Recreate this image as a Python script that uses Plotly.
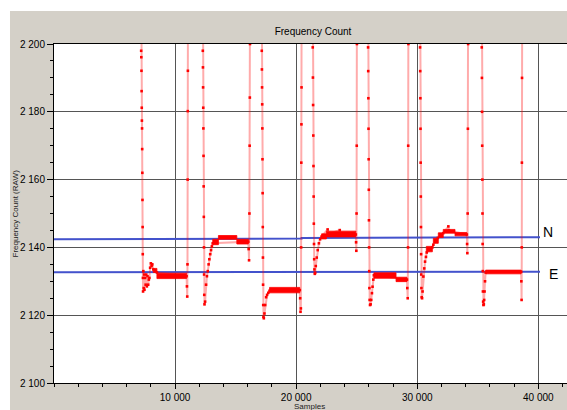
import plotly.graph_objects as go

# Frequency count signal, one list of (sample, count) pairs per measurement cycle.
# Values above 2200 leave the plotted window during the switching transients.
cycle_1 = [
    (7100, 2280), (7200, 2198.0), (7212, 2196.1), (7224, 2192.1), (7236, 2186.1),
    (7248, 2181.2), (7260, 2177.4), (7272, 2175.1), (7284, 2169.0), (7296, 2162.0),
    (7308, 2154.0), (7320, 2146.0), (7332, 2138.0), (7344, 2131.0), (7356, 2127.0),
    (7380, 2133.0), (7410, 2128.0), (7440, 2132.0), (7470, 2127.5), (7520, 2131.0),
    (7570, 2129.0), (7620, 2132.0), (7670, 2128.5), (7720, 2131.5), (7780, 2129.0),
    (7830, 2130.5), (7880, 2131.0), (7940, 2134.0), (8000, 2135.3), (8060, 2134.5),
    (8120, 2135.0), (8200, 2133.5), (8500, 2132.6),
    (10950, 2131.5), (10980, 2128.5), (11005, 2125.5), (11025, 2135.0), (11040, 2160.0),
    (11050, 2180.2), (11058, 2192.1), (11070, 2230.0), (11100, 2280),
]
cycle_2 = [
    (12200, 2280), (12290, 2198.0), (12302, 2193.1), (12314, 2187.2), (12326, 2181.2),
    (12338, 2175.1), (12350, 2167.0), (12362, 2158.0), (12374, 2149.0), (12386, 2140.0),
    (12398, 2132.0), (12410, 2126.0), (12430, 2123.2), (12480, 2124.0), (12560, 2129.0),
    (12630, 2131.5), (12700, 2133.0), (12770, 2135.0), (12830, 2136.5), (12900, 2138.0),
    (12970, 2139.2), (13040, 2140.3), (13110, 2141.2),
    (16050, 2141.7), (16080, 2139.5), (16110, 2136.2), (16140, 2150.0), (16160, 2170.0),
    (16175, 2184.2), (16190, 2200.0), (16210, 2240.0), (16240, 2280),
]
cycle_3 = [
    (17060, 2280), (17160, 2198.0), (17172, 2192.5), (17184, 2187.2), (17196, 2182.2),
    (17208, 2175.1), (17220, 2166.0), (17232, 2156.0), (17244, 2146.0), (17256, 2137.0),
    (17268, 2129.0), (17280, 2123.0), (17300, 2119.5), (17330, 2119.1), (17380, 2120.5),
    (17440, 2123.0), (17520, 2125.3), (17600, 2126.0), (17700, 2126.6), (17800, 2127.2),
    (20300, 2127.4), (20330, 2125.0), (20360, 2121.0), (20390, 2122.0), (20410, 2140.0),
    (20425, 2165.0), (20435, 2176.3), (20445, 2187.2), (20460, 2210.0), (20490, 2280),
]
cycle_4 = [
    (21280, 2280), (21370, 2199.0), (21385, 2190.1), (21400, 2182.0), (21415, 2173.0),
    (21430, 2164.0), (21445, 2155.0), (21460, 2147.0), (21475, 2141.0), (21490, 2136.5),
    (21510, 2133.5), (21540, 2132.2), (21570, 2132.5), (21620, 2134.5), (21700, 2137.0),
    (21780, 2139.2), (21880, 2141.2), (21980, 2142.4), (22100, 2143.2),
    (22600, 2145.3), (22700, 2144.0), (23600, 2145.1), (23700, 2144.0),
    (24930, 2143.8), (24950, 2141.5), (24970, 2139.0), (24990, 2150.0), (25005, 2170.0),
    (25020, 2200.0), (25050, 2280),
]
cycle_5 = [
    (25850, 2280), (25940, 2199.0), (25952, 2192.0), (25964, 2184.0), (25976, 2175.0),
    (25988, 2166.0), (26000, 2157.0), (26012, 2148.0), (26024, 2140.0), (26036, 2133.0),
    (26050, 2128.0), (26070, 2124.5), (26100, 2123.0), (26150, 2123.2), (26200, 2124.5),
    (26260, 2126.5), (26310, 2128.4), (26370, 2130.5), (26420, 2131.8),
    (29150, 2130.5), (29180, 2128.0), (29215, 2125.0), (29240, 2140.0), (29255, 2170.0),
    (29270, 2200.0), (29300, 2280),
]
cycle_6 = [
    (30140, 2280), (30235, 2199.0), (30247, 2192.0), (30259, 2184.0), (30271, 2175.0),
    (30283, 2165.0), (30295, 2155.0), (30307, 2146.0), (30319, 2138.0), (30331, 2132.0),
    (30345, 2128.0), (30370, 2125.3), (30400, 2125.0), (30440, 2127.0), (30505, 2131.4),
    (30580, 2133.8), (30645, 2135.8), (30720, 2137.2), (30785, 2138.5),
    (31250, 2140.0), (31330, 2140.8), (31700, 2142.8), (32150, 2144.2), (32570, 2146.2),
    (32620, 2145.0),
    (34100, 2143.8), (34120, 2141.0), (34140, 2138.3), (34165, 2150.0), (34185, 2175.0),
    (34205, 2200.0), (34240, 2280),
]
cycle_7 = [
    (35240, 2280), (35330, 2199.0), (35342, 2190.0), (35354, 2180.0), (35366, 2170.0),
    (35378, 2160.0), (35390, 2150.0), (35402, 2141.0), (35414, 2133.0), (35426, 2127.0),
    (35445, 2124.0), (35470, 2123.0), (35500, 2123.2), (35530, 2124.5), (35560, 2127.0),
    (35600, 2130.0), (35650, 2132.6),
    (38580, 2132.8), (38600, 2130.0), (38620, 2124.5), (38635, 2140.0), (38645, 2165.0),
    (38655, 2190.0), (38670, 2230.0), (38700, 2280),
]

# Settled plateaus: (start sample, end sample, lowest count, highest count)
plateau_bands = [
    (8200, 8500, 2132.6, 2133.8),
    (8500, 10950, 2130.8, 2132.4),
    (13110, 13580, 2140.8, 2142.4),
    (13580, 15100, 2142.4, 2143.5),
    (15100, 16050, 2141.0, 2142.4),
    (17800, 20300, 2126.6, 2128.2),
    (22100, 22500, 2142.5, 2144.0),
    (22500, 24930, 2143.1, 2144.8),
    (26420, 28250, 2130.9, 2132.5),
    (28250, 29150, 2129.9, 2131.2),
    (30750, 31250, 2138.7, 2140.3),
    (31330, 31740, 2141.2, 2142.7),
    (31740, 32150, 2142.9, 2144.3),
    (32150, 33120, 2144.2, 2145.3),
    (33120, 34100, 2143.4, 2144.4),
    (35650, 38580, 2132.2, 2133.3),
]

# Reference levels
ref_n_samples = [0, 7150, 7150, 20450, 20450, 30250, 30250, 40140]
ref_n_counts = [2142.4, 2142.4, 2142.6, 2142.6, 2142.8, 2142.8, 2143.0, 2143.0]
ref_e_samples = [0, 25900, 25900, 40140]
ref_e_counts = [2132.65, 2132.65, 2132.85, 2132.85]
ref_labels = [("N", 40800, 2144.5), ("E", 41215, 2132.3)]

x_ticks = [10000, 20000, 30000, 40000]
y_ticks = [2100, 2120, 2140, 2160, 2180, 2200]

cycles = [cycle_1, cycle_2, cycle_3, cycle_4, cycle_5, cycle_6, cycle_7]
sig_x = [s for c in cycles for s, _ in c]
sig_y = [v for c in cycles for _, v in c]

band_x, band_y = [], []
for s0, s1, lo, hi in plateau_bands:
    band_x += [s0, s1, s1, s0, s0, None]
    band_y += [lo, lo, hi, hi, lo, None]

FONT = "Liberation Sans, Arial, sans-serif"
PANEL = "#d4d0c8"
GRID = "#555555"

fig = go.Figure()
fig.add_trace(go.Scatter(x=ref_n_samples, y=ref_n_counts, mode="lines",
                         line=dict(color="#4352cc", width=2), hoverinfo="skip"))
fig.add_trace(go.Scatter(x=ref_e_samples, y=ref_e_counts, mode="lines",
                         line=dict(color="#4352cc", width=2), hoverinfo="skip"))
fig.add_trace(go.Scatter(x=sig_x, y=sig_y, mode="lines+markers",
                         line=dict(color="rgba(255,0,0,0.33)", width=2),
                         marker=dict(symbol="square", size=2.6, color="#ff0000",
                                     line=dict(width=0))))
fig.add_trace(go.Scatter(x=band_x, y=band_y, mode="lines", fill="toself",
                         fillcolor="#ff0000", line=dict(color="#ff0000", width=0.8),
                         hoverinfo="skip"))

for text, sx, sy in ref_labels:
    fig.add_annotation(x=sx, y=sy, xref="x", yref="y", text=text, showarrow=False,
                       xanchor="center", yanchor="middle",
                       font=dict(family=FONT, size=14, color="black"))

# axis titles
fig.add_annotation(x=-0.0741, y=0.5, xref="paper", yref="paper",
                   text="Frequency Count (RAW)", textangle=-90, showarrow=False,
                   xanchor="center", yanchor="middle",
                   font=dict(family=FONT, size=8, color="#222222"))
fig.add_annotation(x=0.499, y=-0.0695, xref="paper", yref="paper",
                   text="Samples", showarrow=False, xanchor="center", yanchor="middle",
                   font=dict(family=FONT, size=8, color="#222222"))

# white border strips around the grey panel
fig.add_shape(type="rect", xref="paper", yref="paper", x0=-0.106, x1=-0.0858,
              y0=-0.09, y1=1.14, fillcolor="white", line=dict(width=0))
fig.add_shape(type="rect", xref="paper", yref="paper", x0=-0.106, x1=1.01,
              y0=1.0973, y1=1.14, fillcolor="white", line=dict(width=0))

fig.update_layout(
    width=567, height=410,
    margin=dict(l=54, r=0, t=44, b=27, pad=0),
    paper_bgcolor=PANEL, plot_bgcolor="white",
    separators=". ",
    showlegend=False,
    title=dict(text="Frequency Count", x=313 / 567, y=1 - 31 / 410,
               xref="container", yref="container", xanchor="center", yanchor="middle",
               font=dict(family=FONT, size=10, color="black")),
    xaxis=dict(range=[0, 42370], tickmode="array", tickvals=x_ticks, tickformat=",d",
               ticks="outside", ticklen=5, tickcolor="black",
               showline=True, linecolor="black", linewidth=1, mirror=True,
               showgrid=True, gridcolor=GRID, gridwidth=1, zeroline=False,
               minor=dict(dtick=2000, tick0=0, ticks="outside", ticklen=3,
                          tickcolor="black", showgrid=False),
               tickfont=dict(family=FONT, size=10, color="black")),
    yaxis=dict(range=[2100, 2200], tickmode="array", tickvals=y_ticks, tickformat=",d",
               ticks="outside", ticklen=6, tickcolor="black",
               showline=True, linecolor="black", linewidth=1,
               showgrid=True, gridcolor=GRID, gridwidth=1, zeroline=False,
               minor=dict(dtick=5, tick0=2100, ticks="outside", ticklen=3,
                          tickcolor="black", showgrid=False),
               tickfont=dict(family=FONT, size=10, color="black")),
)

fig.write_html("out.html")
